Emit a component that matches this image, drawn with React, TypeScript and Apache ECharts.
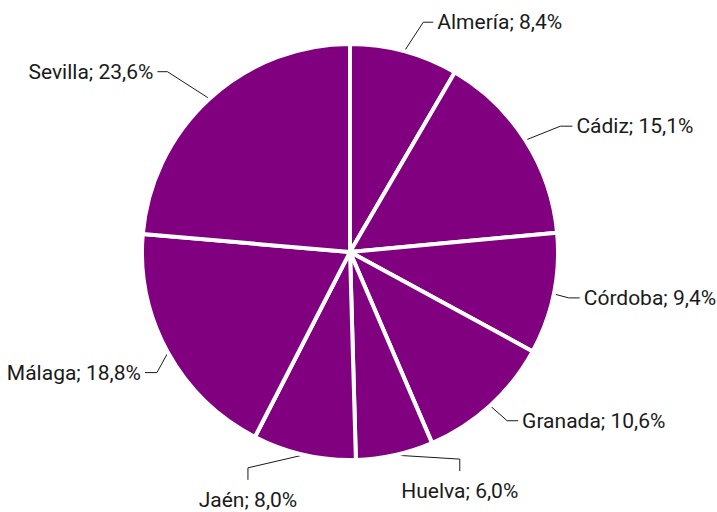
import React, { useEffect, useRef } from "react";
import * as echarts from "echarts";

const provinces = ["Almería", "Cádiz", "Córdoba", "Granada", "Huelva", "Jaén", "Málaga", "Sevilla"];
const shares = [8.4, 15.1, 9.4, 10.6, 6.0, 8.0, 18.8, 23.6];

// Leader-line layout (style only): knee offset from the slice edge, then a
// straight tail ("h" = horizontal, "v" = vertical) of the given length.
const leaderKnee: [number, number][] = [
  [19, -29], [35, -14], [15, 4], [17, 15], [65, 4], [-56, 13], [-11, 20], [-42, -27],
];
const leaderTail: ["h" | "v", number][] = [
  ["h", 10], ["h", 12], ["h", 11], ["h", 11], ["v", 12], ["v", 12], ["h", -12], ["h", -10],
];

const FONT = "Roboto, 'Liberation Sans', sans-serif";

export default function App() {
  const ref = useRef<HTMLDivElement>(null);
  useEffect(() => {
    if (!ref.current) return;
    const chart = echarts.init(ref.current, null, { renderer: "svg" });
    chart.setOption({
      animation: false,
      backgroundColor: "#ffffff",
      series: [
        {
          type: "pie",
          center: [350, 252],
          radius: 208,
          startAngle: 90,
          clockwise: true,
          avoidLabelOverlap: false,
          data: provinces.map((p, i) => ({ name: p, value: shares[i] })),
          itemStyle: { color: "#800080", borderColor: "#ffffff", borderWidth: 4 },
          label: {
            show: true,
            position: "outside",
            color: "#1a1a1a",
            fontFamily: FONT,
            fontSize: 21,
            formatter: (p: any) => `${p.name}; ${p.value.toFixed(1).replace(".", ",")}%`,
          },
          labelLine: {
            show: true,
            length: 20,
            length2: 12,
            lineStyle: { color: "#1a1a1a", width: 1 },
          },
          labelLayout: (params: any) => {
            const i = params.dataIndex;
            const pts = params.labelLinePoints;
            if (!pts || !pts.length) return {};
            const [ex, ey] = pts[0];
            const kx = ex + leaderKnee[i][0];
            const ky = ey + leaderKnee[i][1];
            const [dir, len] = leaderTail[i];
            if (dir === "h") {
              const endX = kx + len;
              return {
                x: endX + (len > 0 ? 4 : -4),
                y: ky,
                align: len > 0 ? "left" : "right",
                verticalAlign: "middle",
                labelLinePoints: [[ex, ey], [kx, ky], [endX, ky]],
              };
            }
            const endY = ky + len;
            return {
              x: kx,
              y: endY + 20,
              align: "center",
              verticalAlign: "middle",
              labelLinePoints: [[ex, ey], [kx, ky], [kx, endY]],
            };
          },
          emphasis: { disabled: true },
        },
      ],
    });
    return () => chart.dispose();
  }, []);
  return <div ref={ref} style={{ position: "fixed", left: 0, top: 0, width: 717, height: 512 }} />;
}
